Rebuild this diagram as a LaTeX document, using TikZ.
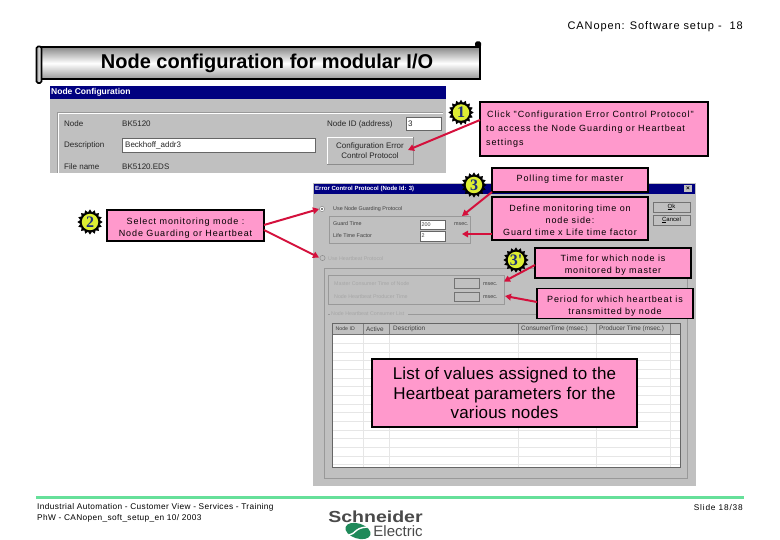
\documentclass[tikz,border=0pt]{standalone}
\usepackage{fontspec}
\setmainfont{Liberation Sans}
\newfontfamily\spaced[LetterSpace=10]{Liberation Sans}
\newfontfamily\footspaced[LetterSpace=4.5]{Liberation Sans}
\newfontfamily\headspaced[LetterSpace=8.2]{Liberation Sans}
\newfontfamily\listfont[LetterSpace=1]{Liberation Sans}
\newfontfamily\numfont{Liberation Serif}
\usetikzlibrary{arrows.meta,shapes.geometric}
\definecolor{pinkfill}{HTML}{FF99CC}
\definecolor{redarrow}{HTML}{D4103C}
\definecolor{wingray}{HTML}{C0C0C0}
\definecolor{navytitle}{HTML}{000080}
\definecolor{badgeyellow}{HTML}{DDEE33}
\definecolor{numblue}{HTML}{1C2F7C}
\definecolor{footgreen}{HTML}{66E09A}
\definecolor{seelight}{HTML}{E6E6E6}
\definecolor{seedark}{HTML}{8C8C8C}
\definecolor{logogreen}{HTML}{1F8A5A}
\definecolor{logogray}{HTML}{4A4A4A}
\newcommand{\fs}[1]{\fontsize{#1}{#1}\selectfont}
\newcommand{\dn}{\rule{0pt}{11pt}}
\tikzset{
  pinkbox/.style={draw=black,line width=1.3pt,fill=pinkfill,inner sep=0pt,align=center,text=black,font=\spaced\fs{9},execute at begin node={\setlength{\baselineskip}{12pt}}},
  callarrow/.style={draw=redarrow,line width=2pt,-{Triangle[length=6pt,width=6.5pt]}},
  spikes/.style={star,star points=16,star point ratio=1.28,minimum size=24.5pt,inner sep=0pt,fill=black,draw=black},
  badgenum/.style={circle,fill=badgeyellow,minimum size=16.5pt,inner sep=0pt,text=numblue,font=\numfont\bfseries\fs{16}},
  wintext/.style={inner sep=0pt,anchor=west,text=black!75,font=\fs{5.4}},
  bigtext/.style={inner sep=0pt,anchor=west,text=black!85,font=\fs{8}},
  greytext/.style={inner sep=0pt,anchor=west,text=black!35,font=\fs{5.3}},
  headtext/.style={inner sep=0pt,anchor=west,text=black!75,font=\fs{6.4}},
  groove/.style={draw=black!40,line width=.5pt},
  inputbox/.style={draw=black!60,fill=white,line width=.6pt},
  footertext/.style={inner sep=0pt,text=black,font=\footspaced\fs{8.3}},
}
\begin{document}
\begin{tikzpicture}[x=1pt,y=-1pt]
\useasboundingbox (0,0) rectangle (780,540);
\fill[white] (0,0) rectangle (780,540);

% header
\node[inner sep=0pt,anchor=east,font=\headspaced\fs{11}] (head) at (743,26.5) {CANopen: Software setup -\ \ 18};

% title scroll
\shade[top color=black!45,bottom color=black!40,middle color=white,draw=black,line width=2pt] (39,47.5) rectangle (479.5,79);
\shade[left color=black!35,right color=white,draw=black,line width=1.6pt,rounded corners=1.5pt] (36.5,46.5) rectangle (41.5,83);
\fill[black,rounded corners=1.5pt] (475,41.5) rectangle (481,47);
\node[inner sep=0pt,font=\bfseries\fs{20}] (title) at (267,63.5) {Node configuration for modular I/O};

% first dialog
\fill[wingray] (50,86) rectangle (446,173);
\fill[navytitle] (50,86) rectangle (446,99);
\node[inner sep=0pt,anchor=west,text=white,font=\bfseries\fs{8.5}] (t1) at (51,92.5) {Node Configuration};
\draw[groove] (57,173) -- (57,112) -- (443,112);
\draw[white,line width=.4pt] (58,173) -- (58,113) -- (443,113);
\node[bigtext] (n1) at (64,124) {Node};
\node[bigtext] (n2) at (122,124) {BK5120};
\node[bigtext] (n3) at (64,145.5) {Description};
\node[bigtext] (n4) at (64,167) {File name};
\node[bigtext] (n5) at (122,167) {BK5120.EDS};
\draw[inputbox] (122,138) rectangle (315,152);
\node[bigtext] (n6) at (125,145) {Beckhoff\_addr3};
\node[bigtext] (n7) at (327,124) {Node ID (address)};
\draw[inputbox] (406,117) rectangle (441,130);
\node[bigtext] (n8) at (408,124) {3};
\draw[fill=wingray,draw=white,line width=.6pt] (327,137) rectangle (413,164);
\draw[seedark,line width=.8pt] (327,164) -- (413,164) -- (413,137);
\node[inner sep=0pt,align=center,font=\fs{8},text=black!85,execute at begin node={\setlength{\baselineskip}{9.5pt}}] (cfgbtn) at (370,150.5) {Configuration Error\\Control Protocol};
\coordinate (cfgtip) at (408,150);

% second dialog
\fill[wingray] (313,183) rectangle (696,486);
\fill[navytitle] (314,184) rectangle (695,194);
\node[inner sep=0pt,anchor=west,text=white,font=\bfseries\fs{6}] (t2) at (315,189) {Error Control Protocol (Node Id: 3)};
\fill[wingray] (684,185.5) rectangle (692,192.5);
\node[inner sep=0pt,font=\bfseries\fs{6.5}] (closex) at (688,189) {×};
\draw[fill=wingray,draw=black!55,line width=.6pt] (653,202) rectangle (690,212);
\node[inner sep=0pt,font=\fs{6}] (okb) at (671.5,207) {\underline{O}k};
\draw[fill=wingray,draw=black!55,line width=.6pt] (653,215) rectangle (690,225);
\node[inner sep=0pt,font=\fs{6}] (canb) at (671.5,220) {\underline{C}ancel};

\draw[seedark,fill=white,line width=.5pt] (322,209) circle (2.6);
\fill[black!70] (322,209) circle (1.1);
\node[wintext] (u1) at (333,209.5) {Use Node Guarding Protocol};
\draw[groove] (329,216) rectangle (470,243);
\node[wintext] (g1) at (333,224) {Guard Time};
\node[wintext] (g2) at (333,236) {Life Time Factor};
\draw[inputbox] (420,220) rectangle (445,229);
\draw[inputbox] (420,231) rectangle (445,241);
\node[wintext] (v1) at (421.5,224.5) {200};
\node[wintext] (v2) at (421.5,236) {2};
\node[wintext] (m0) at (454,224.5) {msec.};

\draw[seedark,fill=wingray,line width=.5pt] (322.5,258) circle (2.6);
\node[greytext] (u2) at (328,259) {Use Heartbeat Protocol};
\draw[groove] (324,478) -- (324,268) -- (687,268) -- (687,478) -- cycle;
\draw[groove] (328,275) rectangle (504,304);
\node[greytext] (h1) at (334,284) {Master Consumer Time of Node};
\node[greytext] (h2) at (334,296.5) {Node Heartbeat Producer Time};
\draw[draw=black!55,fill=wingray,line width=.6pt] (454,278) rectangle (479,288);
\draw[draw=black!55,fill=wingray,line width=.6pt] (454,292) rectangle (479,301);
\node[wintext] (m1) at (483,284) {msec.};
\node[wintext] (m2) at (483,297) {msec.};
\draw[groove] (328,314) -- (330,314) (408,314) -- (682,314);
\node[greytext] (h3) at (331,314) {Node Heartbeat Consumer List};

% table
\fill[white] (332,323) rectangle (680,467);
\fill[wingray] (332,323) rectangle (680,334);
\foreach \yy in {343,352,360.5,369,378,386.5,395,404,412.5,421,430,438.5,447,456,464.5}
  \draw[seelight,line width=.6pt] (333,\yy) -- (680,\yy);
\foreach \xx in {363,389,518,596,670}
  \draw[seelight,line width=.6pt] (\xx,334) -- (\xx,467);
\foreach \xx in {363,389,518,596,670}
  \draw[black!50,line width=.5pt] (\xx,323) -- (\xx,334);
\draw[black!55,line width=.8pt] (332,334) -- (680,334);
\draw[black!60,line width=.9pt] (332,467) -- (332,323) -- (680,323) -- (680,467) -- cycle;
\node[headtext,font=\fs{5.2}] (c1) at (335.5,329) {Node ID};
\node[headtext] (c2) at (366,329) {Active};
\node[headtext] (c3) at (393,329) {Description};
\node[headtext] (c4) at (521,329) {ConsumerTime (msec.)};
\node[headtext] (c5) at (599,329) {Producer Time (msec.)};
\coordinate (guardtip) at (462,216);
\coordinate (lifetip) at (462,234);
\coordinate (radiotop) at (319,209);
\coordinate (radiobot) at (319,257.5);
\coordinate (consumertip) at (504,281.5);
\coordinate (producertip) at (505,296);

% pink boxes
\node[pinkbox,minimum width=228pt,minimum height=54pt] (box1) at (594,129) {};
\node[inner sep=0pt,anchor=west,font=\spaced\fs{9}] (b1a) at (487,115) {Click "Configuration Error Control Protocol"};
\node[inner sep=0pt,anchor=west,font=\spaced\fs{9}] (b1b) at (486,129.5) {to access the Node Guarding or Heartbeat};
\node[inner sep=0pt,anchor=west,font=\spaced\fs{9}] (b1c) at (486,143.5) {settings};
\node[pinkbox,minimum width=156pt,minimum height=24pt] (box3a) at (570,180) {\raisebox{3pt}{Polling time for master}};
\node[pinkbox,minimum width=156pt,minimum height=43pt] (box3b) at (570,218.5) {\dn Define monitoring time on\\node side:\\Guard time x Life time factor};
\node[pinkbox,minimum width=156pt,minimum height=30pt] (box3c) at (613,263) {\dn Time for which node is\\monitored by master};
\node[pinkbox,minimum width=156pt,minimum height=30pt] (box3d) at (615,303.5) {\dn Period for which heartbeat is\\transmitted by node};
\node[pinkbox,minimum width=157pt,minimum height=31pt] (box2) at (185.5,225.5) {\dn Select monitoring mode :\\Node Guarding or Heartbeat};
\node[pinkbox,minimum width=265pt,minimum height=68pt,font=\listfont\fs{17},execute at begin node={\setlength{\baselineskip}{19.5pt}}] (boxlist) at (504.5,393) {List of values assigned to the\\Heartbeat parameters for the\\various nodes};

% arrow starts
\coordinate (s1) at (480,120);
\coordinate (s2a) at (264,225);
\coordinate (s2b) at (264,230);
\coordinate (s3a) at (492,192);
\coordinate (s3b) at (492,234);
\coordinate (s3c) at (535,265);
\coordinate (s3d) at (537,302);

\draw[callarrow] (s1) -- (cfgtip);
\draw[callarrow] (s2a) -- (radiotop);
\draw[callarrow] (s2b) -- (radiobot);
\draw[callarrow] (s3a) -- (guardtip);
\draw[callarrow] (s3b) -- (lifetip);
\draw[callarrow] (s3c) -- (consumertip);
\draw[callarrow] (s3d) -- (producertip);

% badges
\node[spikes] (sp1) at (461,112.5) {};
\node[badgenum] (bd1) at (461,112.5) {1};
\node[spikes] (sp2) at (90,222) {};
\node[badgenum] (bd2) at (90,222) {2};
\node[spikes] (sp3) at (474,185) {};
\node[badgenum] (bd3) at (474,185) {3};
\node[spikes] (sp4) at (516,260) {};
\node[badgenum] (bd4) at (516,260) {3'};

% footer
\draw[footgreen,line width=3pt] (36,497.5) -- (744,497.5);
\node[footertext,anchor=west] (f1) at (37,507) {Industrial Automation - Customer View - Services - Training};
\node[footertext,anchor=west] (f2) at (37,518) {PhW - CANopen\_soft\_setup\_en 10/ 2003};
\node[inner sep=0pt,anchor=east,font=\spaced\fs{8.3}] (slide) at (743,507.5) {Slide 18/38};

% logo
\node[inner sep=0pt,text=logogray,font=\bfseries\fs{16}] (logo1) at (375.5,517) {\scalebox{1.22}[1]{Schneider}};
\node[inner sep=0pt,text=logogray,font=\fs{15}] (logo2) at (398,531) {Electric};
\fill[logogreen,rotate around={-18:(358,531)}] (358,531) ellipse (13 and 7.5);
\draw[white,line width=1.4pt] (349,535) .. controls (356,534) and (354,528) .. (367,527);
\end{tikzpicture}
\end{document}
